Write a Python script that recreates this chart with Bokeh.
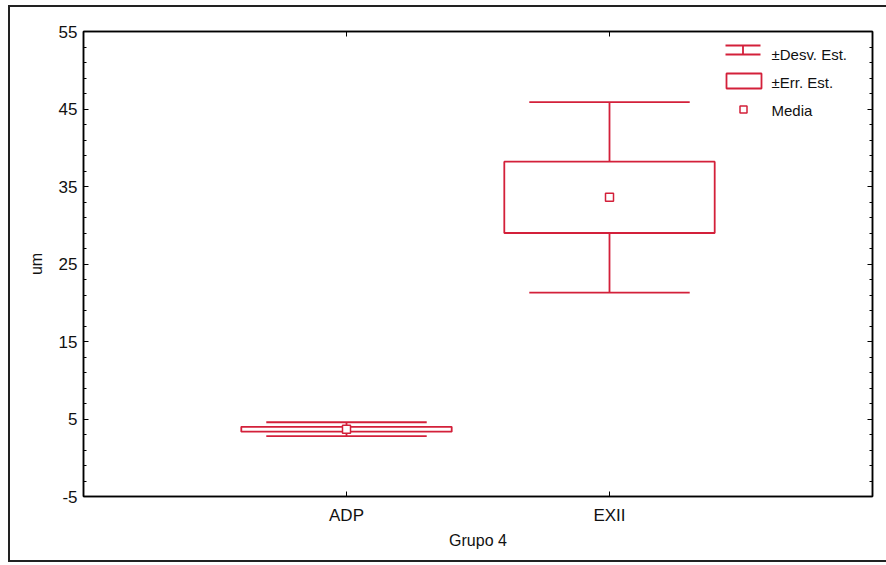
from bokeh.plotting import figure
from bokeh.models import FixedTicker, LinearAxis, Range1d
from bokeh.embed import file_html
from bokeh.resources import INLINE
from bokeh.core.properties import value

# ---- data ----
groups = ["ADP", "EXII"]
means = [3.68, 33.6]
std_err = [0.31, 4.6]
std_dev = [0.9, 12.3]
y_ticks = [-5, 5, 15, 25, 35, 45, 55]
y_minor = [-3, -1, 1, 3, 7, 9, 11, 13, 17, 19, 21, 23, 27, 29, 31, 33, 37, 39, 41, 43, 47, 49, 51, 53]
legend_labels = ["\u00b1Desv. Est.", "\u00b1Err. Est.", "Media"]
x_title = "Grupo 4"
y_title = "um"

# ---- style ----
RED = "#d3203a"
FONT = "Liberation Sans"
W, H = 886, 565
L, R, T, B = 83, 14, 31, 69
x0, x1 = 0, len(groups) + 1
y0, y1 = -5, 55
FW, FH = W - L - R, H - T - B


def px2x(px):
    return x0 + (px - L) / FW * (x1 - x0)


def py2y(py):
    return y1 - (py - T) / FH * (y1 - y0)


p = figure(width=W, height=H, x_range=Range1d(x0, x1), y_range=Range1d(y0, y1),
           output_backend="svg", toolbar_location=None,
           min_border_left=L, min_border_right=R, min_border_top=T, min_border_bottom=B)
p.grid.visible = False
p.outline_line_color = "black"
p.outline_line_width = 1.5
p.background_fill_color = "white"
p.border_fill_alpha = 0
# outer frame of the scanned page (drawn with CSS shadows around the canvas)
p.styles = {
    "background-color": "white",
    "box-shadow": ("inset 8px 0 0 0 white, inset 0 5px 0 0 white, inset 0 -3px 0 0 white, "
                   "inset 10px 0 0 0 #222, inset 0 7px 0 0 #222, inset 0 -5px 0 0 #222"),
}

xs = [i + 1 for i in range(len(groups))]

# axes
xa = p.xaxis[0]
xa.ticker = FixedTicker(ticks=xs)
xa.major_label_overrides = {x: g for x, g in zip(xs, groups)}
ya = p.yaxis[0]
ya.ticker = FixedTicker(ticks=y_ticks, minor_ticks=y_minor)
ya.major_label_overrides = {t: str(t) for t in y_ticks}
for ax in (xa, ya):
    ax.axis_line_color = "black"
    ax.axis_line_width = 1.5
    ax.major_tick_in = 5
    ax.major_tick_out = 0
    ax.minor_tick_in = 3
    ax.minor_tick_out = 0
    ax.major_label_text_font = FONT
    ax.major_label_text_font_size = "17px"
    ax.major_label_text_color = "#111111"
    ax.axis_label_text_font = FONT
    ax.axis_label_text_font_size = "16px"
    ax.axis_label_text_font_style = "normal"
    ax.axis_label_text_color = "#111111"
xa.minor_tick_line_color = None
xa.axis_label = x_title
ya.axis_label = y_title
xa.major_label_standoff = 9
xa.axis_label_standoff = 4
ya.major_label_standoff = 6
ya.axis_label_standoff = 11

top = LinearAxis(ticker=FixedTicker(ticks=xs), major_label_text_font_size="0px",
                 major_tick_in=5, major_tick_out=0, minor_tick_line_color=None,
                 axis_line_color="black", axis_line_width=1.5)
right = LinearAxis(ticker=FixedTicker(ticks=y_ticks, minor_ticks=y_minor),
                   major_label_text_font_size="0px",
                   major_tick_in=5, major_tick_out=0, minor_tick_in=3, minor_tick_out=0,
                   axis_line_color="black", axis_line_width=1.5)
top.major_label_text_alpha = 0
right.major_label_text_alpha = 0
p.add_layout(top, "above")
p.add_layout(right, "right")

# ---- marks ----
box_hw = 0.40
cap_hw = 0.305
lo_se = [m - s for m, s in zip(means, std_err)]
hi_se = [m + s for m, s in zip(means, std_err)]
lo_sd = [m - s for m, s in zip(means, std_dev)]
hi_sd = [m + s for m, s in zip(means, std_dev)]

p.segment(x0=xs, x1=xs, y0=hi_se, y1=hi_sd, line_color=RED, line_width=1.8)
p.segment(x0=xs, x1=xs, y0=lo_sd, y1=lo_se, line_color=RED, line_width=1.8)
p.segment(x0=[x - cap_hw for x in xs], x1=[x + cap_hw for x in xs], y0=hi_sd, y1=hi_sd,
          line_color=RED, line_width=1.8)
p.segment(x0=[x - cap_hw for x in xs], x1=[x + cap_hw for x in xs], y0=lo_sd, y1=lo_sd,
          line_color=RED, line_width=1.8)
p.quad(left=[x - box_hw for x in xs], right=[x + box_hw for x in xs], bottom=lo_se, top=hi_se,
       fill_color=None, line_color=RED, line_width=1.8)
p.scatter(x=xs, y=means, marker="square", size=8, fill_color="white", line_color=RED, line_width=1.5)

# ---- legend (manual, drawn like Statistica) ----
lx0, lx1 = px2x(725), px2x(760)
lxc = px2x(742.5)
p.segment(x0=[lx0, lx0, lxc], x1=[lx1, lx1, lxc], y0=[py2y(45), py2y(54), py2y(45)],
          y1=[py2y(45), py2y(54), py2y(54)], line_color=RED, line_width=1.8)
p.quad(left=[px2x(726)], right=[px2x(761)], top=[py2y(73)], bottom=[py2y(88)],
       fill_color=None, line_color=RED, line_width=1.8)
p.scatter(x=[px2x(743)], y=[py2y(109)], marker="square", size=7, fill_color="white",
          line_color=RED, line_width=1.5)
p.text(x=[px2x(771)] * 3, y=[py2y(54), py2y(82), py2y(110)], text=legend_labels,
       text_font=value(FONT), text_font_size="15px", text_baseline="middle",
       text_color="#111111")

open("out.html", "w").write(file_html(p, INLINE))
